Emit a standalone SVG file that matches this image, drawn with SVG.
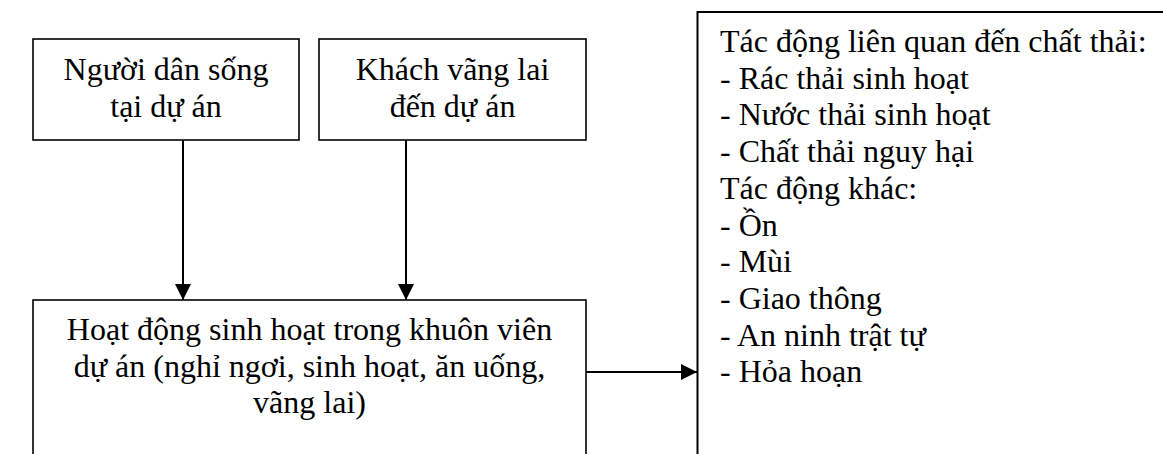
<svg xmlns="http://www.w3.org/2000/svg" width="1163" height="454" viewBox="0 0 1163 454">
<style>
.box{fill:#fff;stroke:#000;stroke-width:1.6}
.t{font-family:"Liberation Serif","Times New Roman",serif;font-size:32px;fill:#000}
.c{text-anchor:middle}
.edge{stroke:#000;stroke-width:2;fill:none}
</style>
<defs>
<marker id="ah" markerUnits="userSpaceOnUse" markerWidth="16" markerHeight="16" refX="16" refY="8" orient="auto">
<path d="M0,0 L16,8 L0,16 z" fill="#000"/>
</marker>
</defs>
<rect width="1163" height="454" fill="#fff"/>
<g id="node-residents">
<rect class="box" x="33" y="39" width="266" height="101"/>
<text class="t c" x="166" y="80">Người dân sống</text>
<text class="t c" x="166" y="117">tại dự án</text>
</g>
<g id="node-visitors">
<rect class="box" x="319" y="39" width="267" height="101"/>
<text class="t c" x="452.5" y="80">Khách vãng lai</text>
<text class="t c" x="452.5" y="117">đến dự án</text>
</g>
<g id="node-activities">
<rect class="box" x="33" y="300" width="553" height="170"/>
<text class="t c" x="309.5" y="340">Hoạt động sinh hoạt trong khuôn viên</text>
<text class="t c" x="309.5" y="377">dự án (nghỉ ngơi, sinh hoạt, ăn uống,</text>
<text class="t c" x="309.5" y="413">vãng lai)</text>
</g>
<g id="node-impacts">
<rect class="box" x="697.5" y="12" width="500" height="480" style="stroke-width:2"/>
<text class="t" x="720" y="52">Tác động liên quan đến chất thải:</text>
<text class="t" x="720" y="88.7">- Rác thải sinh hoạt</text>
<text class="t" x="720" y="125.4">- Nước thải sinh hoạt</text>
<text class="t" x="720" y="162.1">- Chất thải nguy hại</text>
<text class="t" x="720" y="198.8">Tác động khác:</text>
<text class="t" x="720" y="235.5">- Ồn</text>
<text class="t" x="720" y="272.2">- Mùi</text>
<text class="t" x="720" y="308.9">- Giao thông</text>
<text class="t" x="720" y="345.6">- An ninh trật tự</text>
<text class="t" x="720" y="382.3">- Hỏa hoạn</text>
</g>
<g id="connectors">
<line class="edge" x1="183" y1="140" x2="183" y2="300" marker-end="url(#ah)"/>
<line class="edge" x1="406" y1="140" x2="406" y2="300" marker-end="url(#ah)"/>
<line class="edge" x1="586" y1="372" x2="697" y2="372" marker-end="url(#ah)"/>
</g>
</svg>
